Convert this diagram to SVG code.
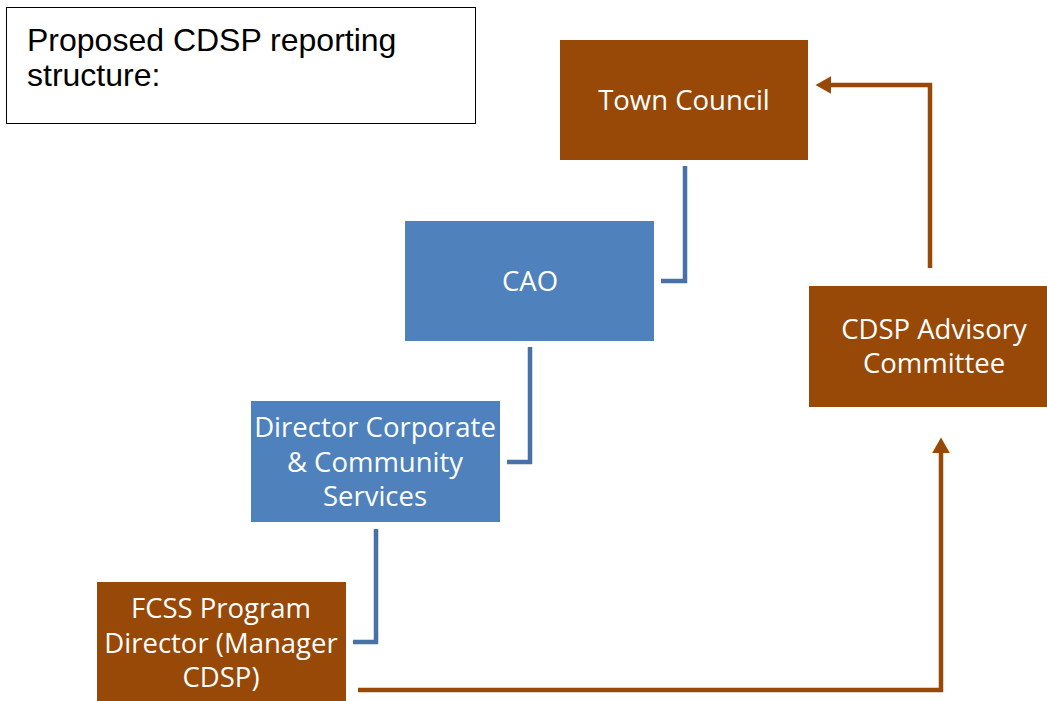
<svg xmlns="http://www.w3.org/2000/svg" width="1047" height="701" viewBox="0 0 1047 701">
<style>
.brown{fill:#984807}
.blue{fill:#4F81BD}
.lbl{font-family:"Open Sans","Noto Sans",sans-serif;font-size:27.5px;fill:#ffffff;text-anchor:middle}
.title{font-family:"Liberation Sans",Arial,sans-serif;font-size:32px;fill:#000000}
.cb{fill:none;stroke:#4672A8;stroke-width:4.5}
.cr{fill:none;stroke:#984807;stroke-width:4.5}
</style>
<defs>
<marker id="ah" markerWidth="4" markerHeight="4" refX="0.5" refY="2" orient="auto" markerUnits="strokeWidth">
<path d="M0,0 L3.5,2 L0,4 z" fill="#984807"/>
</marker>
</defs>
<rect width="1047" height="701" fill="#ffffff"/>
<g id="title">
<rect x="6.5" y="7.5" width="469" height="116" fill="#ffffff" stroke="#000000" stroke-width="1"/>
<text class="title" x="27" y="51">Proposed CDSP reporting</text>
<text class="title" x="27" y="86">structure:</text>
</g>
<g id="connectors">
<path class="cb" d="M685,166 V281 H661"/>
<path class="cb" d="M530,347 V462 H507"/>
<path class="cb" d="M376,529 V642 H353"/>
<path class="cr" d="M358,690 H941 V451" marker-end="url(#ah)"/>
<path class="cr" d="M930,268 V85 H829" marker-end="url(#ah)"/>
</g>
<g id="town-council">
<rect class="brown" x="560" y="40" width="248" height="120"/>
<text class="lbl" x="684" y="110">Town Council</text>
</g>
<g id="cao">
<rect class="blue" x="405" y="221" width="249" height="120"/>
<text class="lbl" x="530" y="291">CAO</text>
</g>
<g id="director">
<rect class="blue" x="251" y="401" width="249" height="121"/>
<text class="lbl" x="375" y="437">Director Corporate</text>
<text class="lbl" x="375" y="472">&amp; Community</text>
<text class="lbl" x="375" y="506">Services</text>
</g>
<g id="fcss">
<rect class="brown" x="97" y="582" width="249" height="119"/>
<text class="lbl" x="221" y="618">FCSS Program</text>
<text class="lbl" x="221" y="653">Director (Manager</text>
<text class="lbl" x="221" y="687">CDSP)</text>
</g>
<g id="advisory">
<rect class="brown" x="809" y="286" width="238" height="121"/>
<text class="lbl" x="934" y="339">CDSP Advisory</text>
<text class="lbl" x="934" y="373">Committee</text>
</g>
</svg>
